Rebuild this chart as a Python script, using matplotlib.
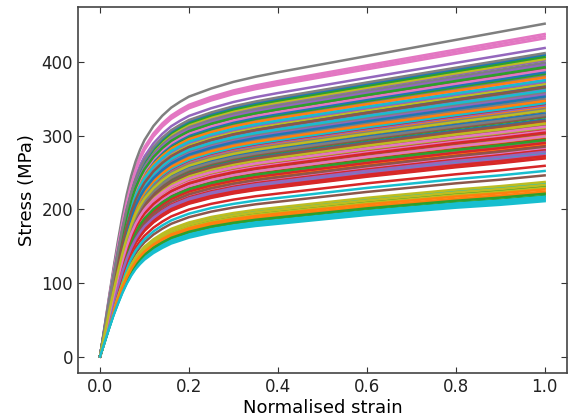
import matplotlib
matplotlib.use("Agg")
import matplotlib.pyplot as plt
import numpy as np

# strain stations shared by all stress-strain curves
strain = [0.0, 0.01, 0.02, 0.03, 0.04, 0.05, 0.06, 0.07, 0.08, 0.09, 0.10,
          0.12, 0.14, 0.16, 0.18, 0.20, 0.25, 0.30, 0.35, 0.40, 0.50,
          0.60, 0.70, 0.80, 0.90, 1.00]

# softest and hardest responses in the set (MPa)
stress_low = [0, 19, 38, 56, 72, 87, 100, 111, 120, 127, 133,
              142, 149, 155, 159, 163, 170, 175, 179, 182, 188,
              194, 199, 204, 208, 213]
stress_high = [0, 40, 80, 119, 156, 190, 220, 245, 265, 281, 294,
               313, 327, 338, 346, 353, 364, 373, 380, 386, 397,
               408, 419, 430, 441, 452]

# final stress of every sample, in plotting order (MPa)
final_stress = [
    345, 301, 372, 287, 329, 356, 395, 310, 383, 276,
    404, 224, 392, 318, 357, 281, 366, 339, 297, 213,
    376, 338, 231, 259, 402, 246, 438, 292, 352, 252,
    322, 270, 364, 307, 341, 333, 283, 381, 229, 388,
    398, 348, 218, 295, 419, 314, 435, 359, 404, 235,
    368, 289, 325, 343, 274, 303, 378, 452, 311, 215,
    409, 317, 384, 269, 362, 326, 299, 350, 233, 344,
    386, 222, 407, 280, 354, 391, 432, 336, 370, 217,
    330, 379, 221, 290, 373, 285, 306, 399, 316, 361,
    410, 347, 294, 272, 396, 320, 389, 328, 237, 375,
    353, 227, 393, 304, 278, 366, 312, 412, 334, 211,
]

eps = np.array(strain)
lo = np.array(stress_low, dtype=float)
hi = np.array(stress_high, dtype=float)

fig = plt.figure(figsize=(5.68, 4.16), dpi=100)
ax = fig.add_axes([0.137, 0.103, 0.861, 0.880])

for s_end in final_stress:
    w = (s_end - lo[-1]) / (hi[-1] - lo[-1])
    ax.plot(eps, lo + w * (hi - lo), linewidth=1.8)

ax.set_xticks([0.0, 0.2, 0.4, 0.6, 0.8, 1.0])
ax.set_yticks([0, 100, 200, 300, 400])
ax.tick_params(direction="in", top=True, right=True, length=4,
               labelsize=12, colors="#333333", labelcolor="#222222")
for sp in ax.spines.values():
    sp.set_color("#444444")
    sp.set_linewidth(1.2)
ax.set_xlabel("Normalised strain", fontsize=13, labelpad=2)
ax.set_ylabel("Stress (MPa)", fontsize=13)

fig.savefig("out.png", dpi=100)
